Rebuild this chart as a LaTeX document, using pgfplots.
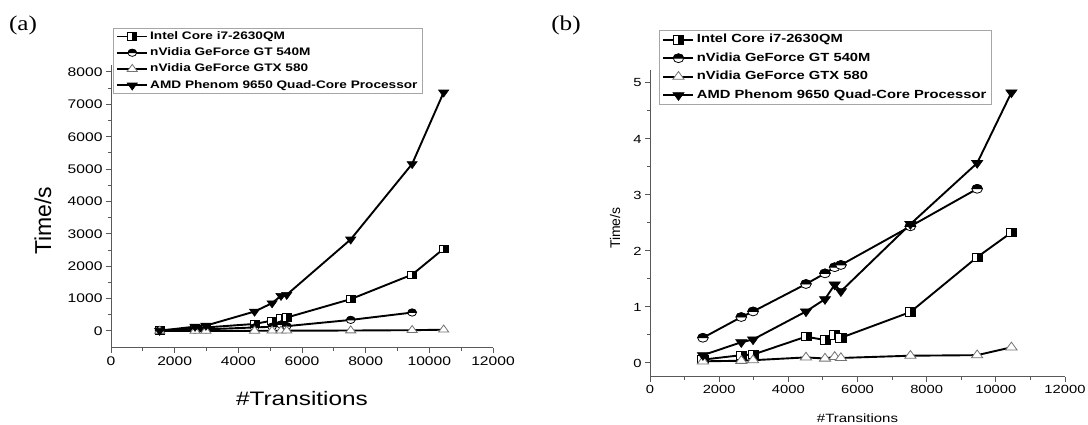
\documentclass[border=0pt]{standalone}
\usepackage{fontspec}
\setmainfont{Liberation Sans}[FakeStretch=1.25]
\newfontfamily\plainsans{Liberation Sans}
\newfontfamily\labelserif{Liberation Serif}[FakeStretch=1.2]
\usepackage{pgfplots}
\pgfplotsset{compat=1.18}

\pgfdeclareplotmark{sqhalf}{%
  \pgfpathrectangle{\pgfqpoint{-\pgfplotmarksize}{-\pgfplotmarksize}}{\pgfqpoint{2\pgfplotmarksize}{2\pgfplotmarksize}}%
  \pgfsetfillcolor{white}\pgfusepathqfillstroke
  \pgfpathrectangle{\pgfqpoint{0pt}{-\pgfplotmarksize}}{\pgfqpoint{\pgfplotmarksize}{2\pgfplotmarksize}}%
  \pgfsetfillcolor{black}\pgfusepathqfillstroke
}
\pgfdeclareplotmark{cirhalf}{%
  \pgfpathcircle{\pgfpointorigin}{\pgfplotmarksize}%
  \pgfsetfillcolor{white}\pgfusepathqfillstroke
  \pgfpathmoveto{\pgfqpoint{\pgfplotmarksize}{0pt}}%
  \pgfpatharc{0}{180}{\pgfplotmarksize}%
  \pgfpathclose
  \pgfsetfillcolor{black}\pgfusepathqfillstroke
}

\pgfplotstableread{
x      intel  gt   gtx  amd
1530   20     15   2    10
2640   80     40   3    135
2980   110    50   4    166
4510   218    110  6    601
5060   321    130  8    860
5340   394    200  9    1088
5520   415    150  9    1119
7530   984    342  15   2829
9460   1741   570  25   5160
10450  2539   nan  40   7370
}\tabA

\pgfplotstableread{
x      intel  gt    gtx   amd
1530   0.06   0.45  0.03  0.14
2640   0.14   0.82  0.04  0.37
2980   0.15   0.92  0.05  0.42
4510   0.47   1.41  0.10  0.92
5060   0.41   1.60  0.08  1.14
5340   0.50   1.71  0.11  1.40
5520   0.45   1.75  0.09  1.28
7530   0.91   2.44  0.13  2.48
9460   1.89   3.11  0.14  3.57
10450  2.33   nan   0.28  4.83
}\tabB

\pgfplotsset{
  originstyle/.style={
    scale only axis,
    axis lines=left,
    axis line style={-, line width=1pt, black!65},
    tick align=outside,
    major tick length=5pt, minor tick length=3pt,
    tick style={black!65, line width=1pt},
    minor x tick num=1, minor y tick num=1,
    scaled ticks=false,
    /pgf/number format/1000 sep={},
    /pgf/number format/assume math mode=true,
    xmin=0, xmax=12000, xtick={0,2000,...,12000},
    clip=false,
    unbounded coords=jump,
    legend cell align=left,
    legend style={draw=black!35, line width=0.8pt, anchor=north west,
      inner xsep=3pt, inner ysep=1pt, row sep=2pt},
    legend image code/.code={\draw[mark repeat=2,mark phase=2,##1] plot coordinates {(0pt,0pt) (15pt,0pt) (30pt,0pt)};},
  },
  intel/.style={line width=1.9pt, black, mark=sqhalf, mark size=#1, mark options={solid, line width=0.8pt, xscale=1.2}},
  gt/.style={line width=1.9pt, black, mark=cirhalf, mark size=#1, mark options={solid, line width=0.8pt, xscale=1.2}},
  gtx/.style={line width=1.9pt, black, mark=triangle*, mark size=#1, mark options={solid, line width=0.8pt, fill=white, draw=black!55, xscale=1.25}},
  amd/.style={line width=1.9pt, black, mark=triangle*, mark size=#1, mark options={solid, line width=0.6pt, fill=black, rotate=180, xscale=1.25}},
}

\begin{document}
\begin{tikzpicture}[x=1pt,y=1pt]
\useasboundingbox (0,0) rectangle (1088,425);
\node[font=\labelserif\fontsize{21}{23}\selectfont] at (23,400) {(a)};
\node[font=\labelserif\fontsize{21}{23}\selectfont] at (566,400) {(b)};

\begin{axis}[originstyle,
  at={(111pt,77pt)}, anchor=south west,
  width=382pt, height=283pt,
  ymin=-525, ymax=8215, ytick={0,1000,...,8000},
  ticklabel style={font=\fontsize{12.5}{14}\selectfont},
  xlabel={\#Transitions}, ylabel={Time/s},
  xlabel style={at={(axis description cs:0.5,-0.18)}, anchor=center, font=\fontsize{19.5}{22}\selectfont},
  ylabel style={at={(axis description cs:-0.178,0.45)}, anchor=center, rotate=0, font=\plainsans\fontsize{23}{25}\selectfont},
  legend style={at={(0.005,1.131)}, font=\bfseries\fontsize{10.9}{12}\selectfont,
    nodes={inner sep=2pt, text height=8pt, text depth=2.3pt}},
]
\addplot[intel=3.7pt] table[x=x,y=intel] {\tabA};
\addplot[gt=3.6pt] table[x=x,y=gt] {\tabA};
\addplot[gtx=4.7pt] table[x=x,y=gtx] {\tabA};
\addplot[amd=4.7pt] table[x=x,y=amd] {\tabA};
\legend{Intel Core i7-2630QM, nVidia GeForce GT 540M, nVidia GeForce GTX 580, AMD Phenom 9650 Quad-Core Processor}
\end{axis}

\begin{axis}[originstyle,
  at={(650pt,48pt)}, anchor=south west,
  width=415pt, height=307pt,
  ymin=-0.25, ymax=5.232, ytick={0,1,...,5},
  ticklabel style={font=\fontsize{11.8}{13}\selectfont},
  xlabel={\#Transitions}, ylabel={Time/s},
  xlabel style={at={(axis description cs:0.5,-0.134)}, anchor=center, font=\fontsize{12}{14}\selectfont},
  ylabel style={at={(axis description cs:-0.084,0.485)}, anchor=center, rotate=0, font=\plainsans\fontsize{14}{16}\selectfont},
  legend style={at={(0.022,1.13)}, font=\bfseries\fontsize{11.8}{13}\selectfont,
    nodes={inner sep=2.5pt, text height=8.8pt, text depth=2.7pt}},
]
\addplot[intel=4.2pt] table[x=x,y=intel] {\tabB};
\addplot[gt=4.4pt] table[x=x,y=gt] {\tabB};
\addplot[gtx=5.2pt] table[x=x,y=gtx] {\tabB};
\addplot[amd=5.2pt] table[x=x,y=amd] {\tabB};
\legend{Intel Core i7-2630QM, nVidia GeForce GT 540M, nVidia GeForce GTX 580, AMD Phenom 9650 Quad-Core Processor}
\end{axis}
\end{tikzpicture}
\end{document}
